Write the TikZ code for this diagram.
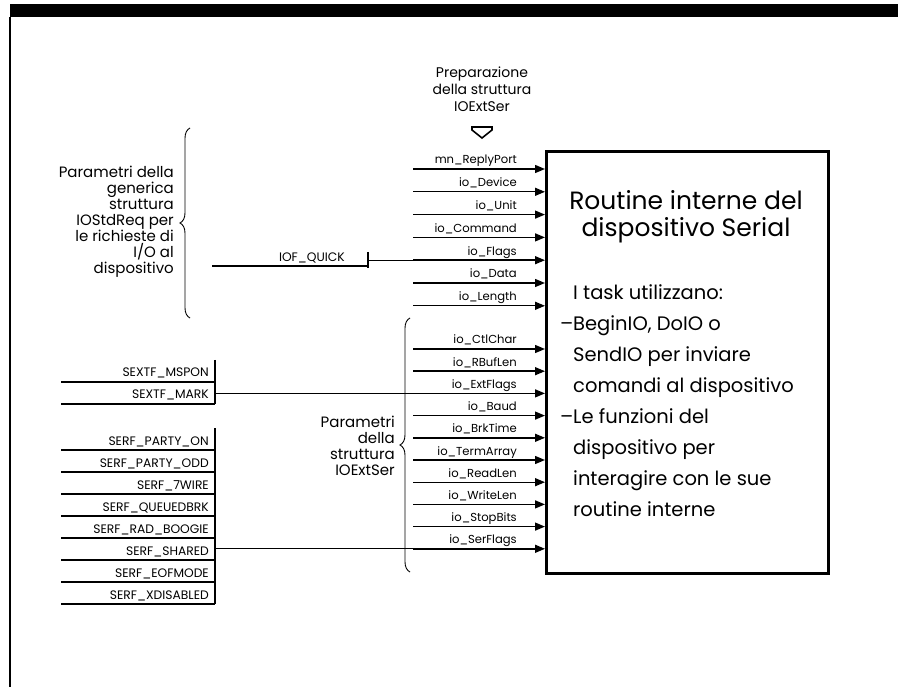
\documentclass[tikz,border=0pt]{standalone}
\usepackage{fontspec}
\setmainfont{Poppins}
\usetikzlibrary{arrows.meta,decorations.pathreplacing}
\begin{document}
\begin{tikzpicture}[x=1pt,y=-1pt,
  lbl/.style={font=\fontsize{11.6}{13}\selectfont, anchor=base east, inner sep=0pt},
  flg/.style={font=\fontsize{12.3}{13}\selectfont, anchor=base east, inner sep=0pt},
  desc/.style={font=\fontsize{15}{16}\selectfont, align=right, inner sep=0pt},
  bigt/.style={font=\fontsize{25}{27}\selectfont, anchor=base, inner sep=0pt},
  bodyt/.style={font=\fontsize{19.5}{31}\selectfont, anchor=base west, inner sep=0pt},
  arr/.style={line width=1.4pt, -{Triangle[length=10pt,width=8pt]}},
  rule/.style={line width=1.2pt},
  brc/.style={decorate, decoration={brace, amplitude=10pt}, line width=0.9pt}]
\useasboundingbox (0,0) rectangle (898,687);
% frame
\fill (10,4) rectangle (898,17);
\draw[line width=1.2pt] (10,17) -- (10,687);
% main box
\node[draw, line width=2.6pt, minimum width=282pt, minimum height=422pt, anchor=north west, inner sep=0pt] (box) at (545,150) {};
\node[bigt] (title1) at (686,210) {Routine interne del};
\node[bigt] (title2) at (686,237) {dispositivo Serial};
\foreach \k/\t in {0/I task utilizzano:, 1/\llap{--}BeginIO{,} DoIO o, 2/SendIO per inviare, 3/comandi al dispositivo, 4/\llap{--}Le funzioni del, 5/dispositivo per, 6/interagire con le sue, 7/routine interne} {
  \node[bodyt] (body\k) at (573,300+30.9*\k) {\t};
}
% preparation
\node[desc, align=center, font=\fontsize{14}{17}\selectfont] (prep) at (482,89) {Preparazione\\della struttura\\IOExtSer};
\draw[line width=1.6pt, line join=miter] (472,127) -- (492,127) -- (492,130) -- (482,138) -- (472,130) -- cycle;
% top arrows (IOStdReq)
\foreach \y/\t/\n in {169/mn\_ReplyPort/t1, 191.8/io\_Device/t2, 214.6/io\_Unit/t3, 237.4/io\_Command/t4, 260.2/io\_Flags/t5, 283/io\_Data/t6, 305.8/io\_Length/t7} {
  \coordinate (s\n) at (413,\y);
  \node[lbl] (l\n) at (517,\y-5) {\t};
  \draw[arr] (s\n) -- (s\n -| box.west);
}
% bottom arrows (IOExtSer)
\foreach \y/\t/\n in {349/io\_CtlChar/b1, 371.2/io\_RBufLen/b2, 393.4/io\_ExtFlags/b3, 415.6/io\_Baud/b4, 437.8/io\_BrkTime/b5, 460/io\_TermArray/b6, 482.2/io\_ReadLen/b7, 504.4/io\_WriteLen/b8, 526.6/io\_StopBits/b9, 548.8/io\_SerFlags/b10} {
  \coordinate (s\n) at (413,\y);
  \node[lbl] (l\n) at (517,\y-5) {\t};
  \draw[arr] (s\n) -- (s\n -| box.west);
}
% braces and descriptions
\draw[brc] (190,318) -- (190,128);
\node[desc, anchor=east] (descA) at (174,222) {Parametri della\\generica\\struttura\\IOStdReq per\\le richieste di\\I/O al\\dispositivo};
\draw[brc] (410,572) -- (410,318);
\node[desc, anchor=east] (descB) at (395,446) {Parametri\\della\\struttura\\IOExtSer};
% IOF_QUICK
\node[flg] (quick) at (345,262) {IOF\_QUICK};
\coordinate (qtick) at (368,260.2);
\draw[rule] (212,266) -- (368,266);
\draw[rule] (368,252) -- (368,268);
\draw[rule] (qtick) -- (st5);
% SEXTF group
\draw[rule] (215,360) -- (215,404);
\foreach \k/\t in {0/SEXTF\_MSPON, 1/SEXTF\_MARK} {
  \draw[rule] (61,382+22*\k) -- (215,382+22*\k);
  \node[flg] (x\k) at (209,377+22*\k) {\t};
}
\coordinate (xtick) at (215,393.4);
\draw[rule] (xtick) -- (sb3);
% SERF group
\draw[rule] (215,428) -- (215,604);
\foreach \k/\t in {0/SERF\_PARTY\_ON, 1/SERF\_PARTY\_ODD, 2/SERF\_7WIRE, 3/SERF\_QUEUEDBRK, 4/SERF\_RAD\_BOOGIE, 5/SERF\_SHARED, 6/SERF\_EOFMODE, 7/SERF\_XDISABLED} {
  \draw[rule] (61,450+22*\k) -- (215,450+22*\k);
  \node[flg] (f\k) at (209,445+22*\k) {\t};
}
\coordinate (ftick) at (215,548.8);
\draw[rule] (ftick) -- (sb10);
\end{tikzpicture}
\end{document}
